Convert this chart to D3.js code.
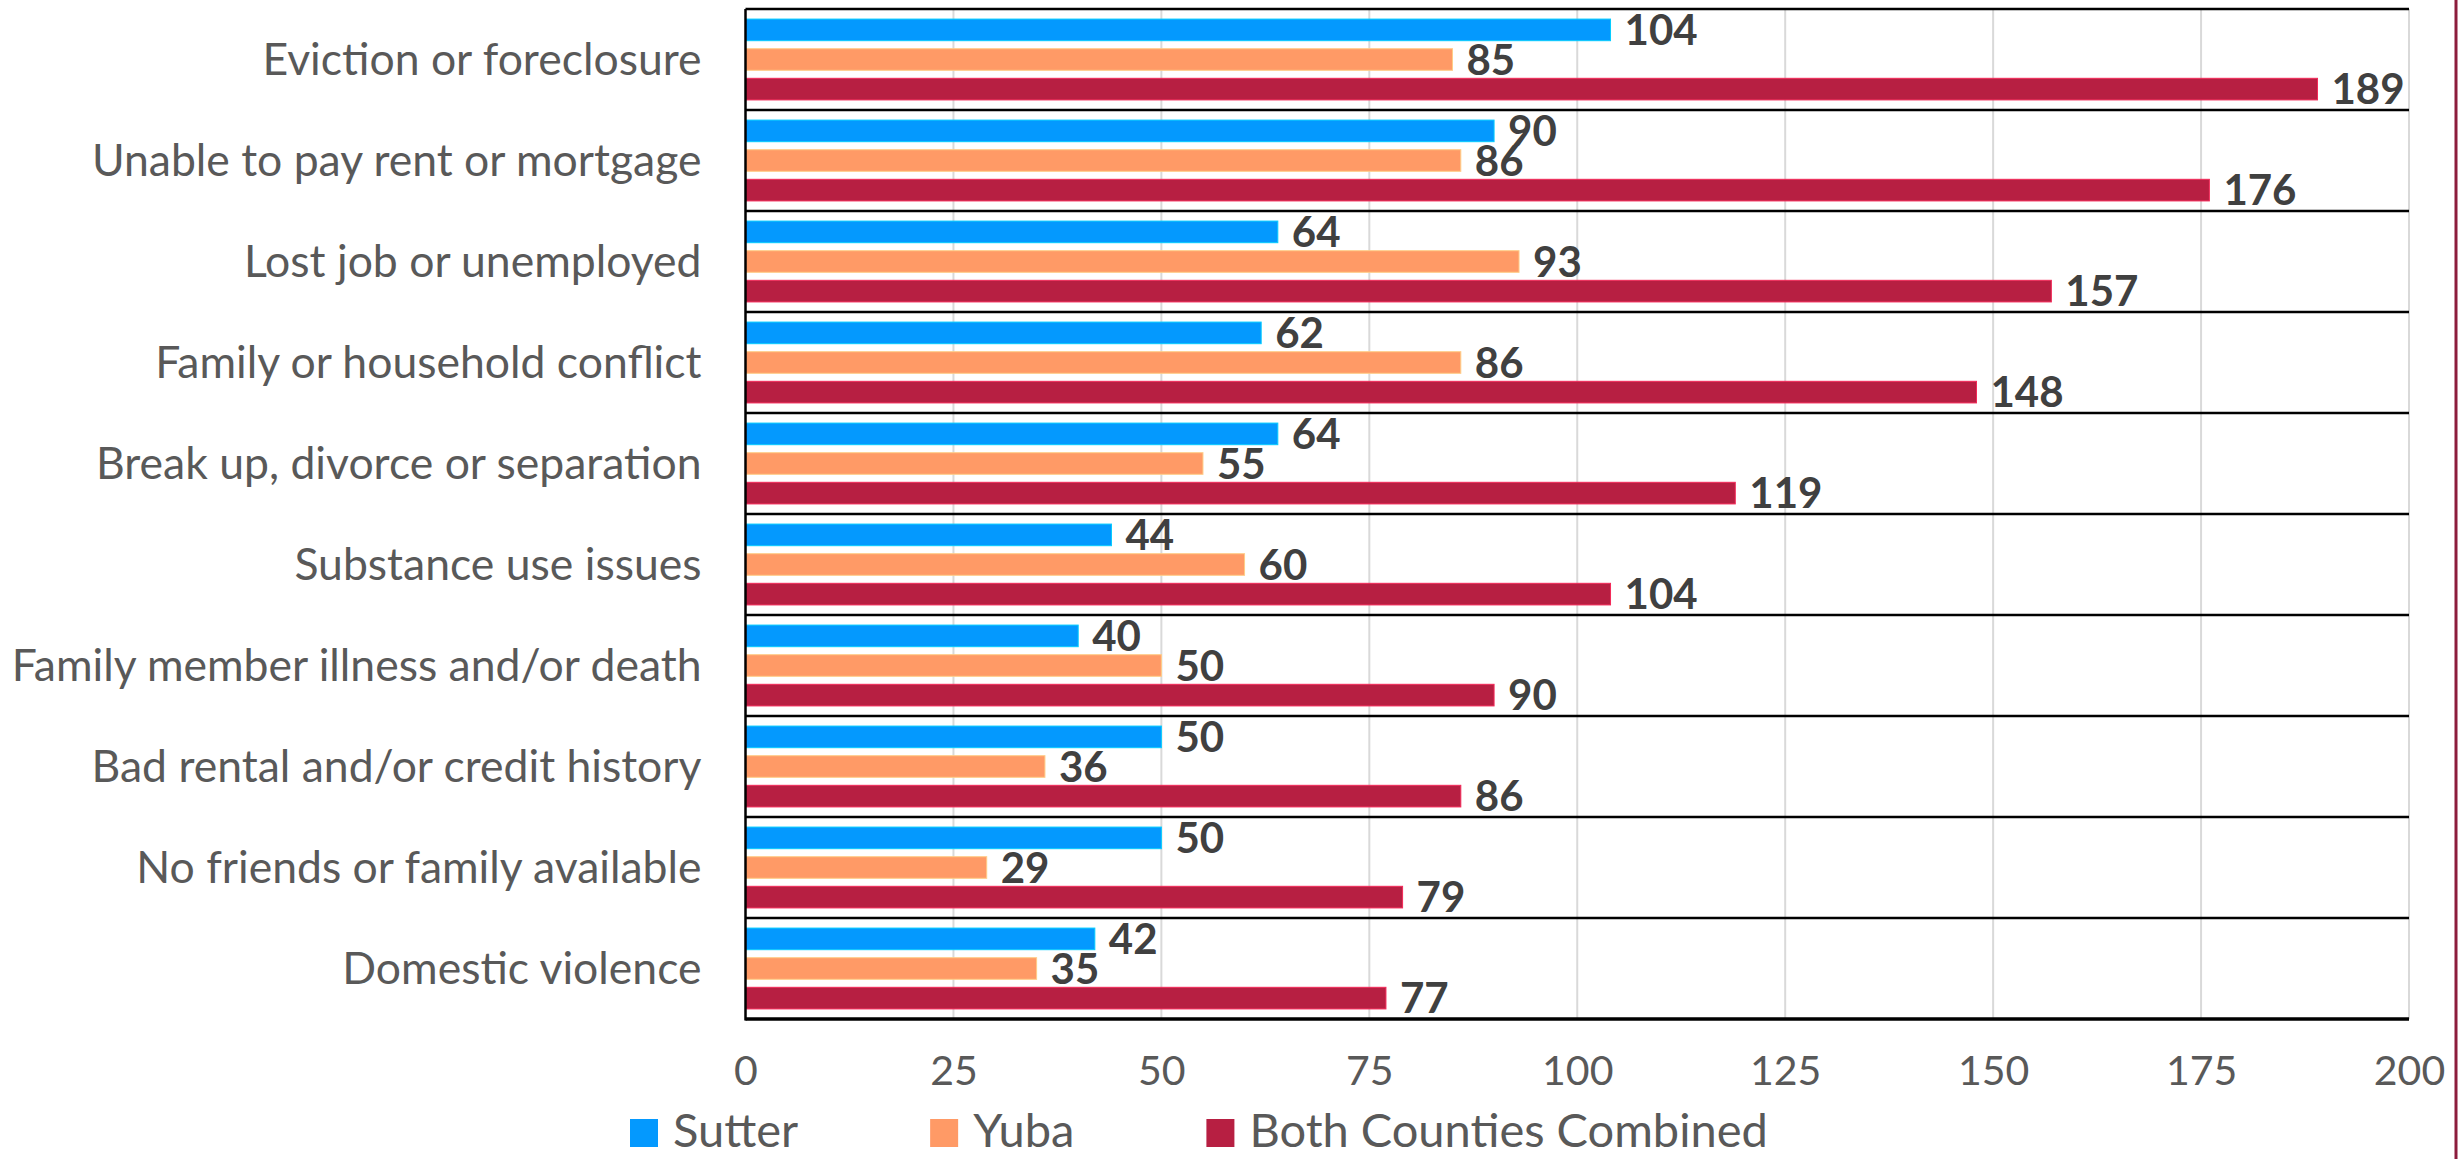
<!DOCTYPE html>
<html>
<head>
<meta charset="utf-8">
<script src="https://cdn.jsdelivr.net/npm/d3@7"></script>
<style>
  body { margin: 0; background: #fff; }
</style>
</head>
<body>
<div id="grafico"></div>
<script>
const width = 2458
const height = 1159

// data
const categories = [
  'Eviction or foreclosure',
  'Unable to pay rent or mortgage',
  'Lost job or unemployed',
  'Family or household conflict',
  'Break up, divorce or separation',
  'Substance use issues',
  'Family member illness and/or death',
  'Bad rental and/or credit history',
  'No friends or family available',
  'Domestic violence'
]
const seriesNames = ['Sutter', 'Yuba', 'Both Counties Combined']
const sutter = [104, 90, 64, 62, 64, 44, 40, 50, 50, 42]
const yuba = [85, 86, 93, 86, 55, 60, 50, 36, 29, 35]
const combined = [189, 176, 157, 148, 119, 104, 90, 86, 79, 77]
const xTicks = [0, 25, 50, 75, 100, 125, 150, 175, 200]

const colors = ['#0499fe', '#ff9a66', '#b71f42']
const seriesValues = [sutter, yuba, combined]

const plotLeft = 745.5, plotRight = 2409, plotTop = 9, plotBottom = 1019

const svg = d3.select('#grafico').append('svg')
              .attr('width', width)
              .attr('height', height)
              .style('font-family', 'Lato, "Open Sans", sans-serif')

const x = d3.scaleLinear().domain([0, 200]).range([plotLeft, plotRight])
const y0 = d3.scaleBand().domain(categories).range([plotTop, plotBottom]).padding(0)
const y1 = d3.scaleBand().domain(seriesNames).range([0, y0.bandwidth()])
             .paddingInner(0.27).paddingOuter(0.34)

// vertical gridlines
svg.append('g').selectAll('line')
   .data(xTicks.slice(1))
   .enter().append('line')
   .attr('x1', d => x(d)).attr('x2', d => x(d))
   .attr('y1', plotTop).attr('y2', plotBottom)
   .attr('stroke', '#d9d9d9')
   .attr('stroke-width', 2)

// bars
const rows = categories.map((c, i) => ({
  cat: c,
  vals: seriesNames.map((s, j) => ({ s: s, v: seriesValues[j][i], c: colors[j] }))
}))

const grupo = svg.selectAll('g.cat')
                 .data(rows)
                 .enter().append('g')
                 .attr('class', 'cat')
                 .attr('transform', d => `translate(0, ${y0(d.cat)})`)

grupo.selectAll('rect')
     .data(d => d.vals)
     .enter().append('rect')
     .attr('x', x(0))
     .attr('y', d => y1(d.s))
     .attr('width', d => x(d.v) - x(0))
     .attr('height', y1.bandwidth())
     .attr('fill', d => d.c)
     .attr('stroke', d => d3.color(d.c).brighter(0.8))
     .attr('stroke-width', 1)

// separators between categories
svg.append('g').selectAll('line')
   .data(categories.slice(1))
   .enter().append('line')
   .attr('x1', plotLeft).attr('x2', plotRight)
   .attr('y1', d => y0(d)).attr('y2', d => y0(d))
   .attr('stroke', '#000')
   .attr('stroke-width', 2.5)

svg.append('line').attr('x1', plotLeft).attr('x2', plotRight).attr('y1', plotTop).attr('y2', plotTop)
   .attr('stroke', '#000').attr('stroke-width', 2.5)
svg.append('line').attr('x1', plotLeft).attr('x2', plotRight).attr('y1', plotBottom).attr('y2', plotBottom)
   .attr('stroke', '#000').attr('stroke-width', 3.5)
svg.append('line').attr('x1', plotLeft).attr('x2', plotLeft).attr('y1', plotTop).attr('y2', plotBottom + 1.5)
   .attr('stroke', '#000').attr('stroke-width', 2.5)

// value labels
grupo.selectAll('text.val')
     .data(d => d.vals)
     .enter().append('text')
     .attr('class', 'val')
     .attr('x', d => x(d.v) + 14)
     .attr('y', d => y1(d.s) + y1.bandwidth() / 2)
     .attr('dy', '0.36em')
     .attr('fill', '#404040')
     .style('font-size', '42px')
     .style('font-weight', 'bold')
     .text(d => d.v)

// category axis
const eixoY = svg.append('g')
                 .attr('transform', `translate(${plotLeft}, 0)`)
                 .call(d3.axisLeft(y0).tickSize(0).tickPadding(44))
eixoY.select('.domain').remove()
eixoY.selectAll('text')
     .attr('dy', '0.35em')
     .attr('fill', '#595959')
     .style('font-size', '44.5px')
     .style('font-family', 'Lato, "Open Sans", sans-serif')

// value axis
const eixoX = svg.append('g')
                 .attr('transform', `translate(0, ${plotBottom})`)
                 .call(d3.axisBottom(x).tickValues(xTicks).tickSize(0))
eixoX.select('.domain').remove()
eixoX.selectAll('text')
     .attr('y', 66)
     .attr('dy', 0)
     .attr('fill', '#595959')
     .style('font-size', '41px')
     .style('font-family', 'Lato, "Open Sans", sans-serif')

// legend
const legenda = svg.append('g').attr('transform', 'translate(630, 1119)')
let lx = 0
seriesNames.forEach((s, j) => {
  const item = legenda.append('g').attr('transform', `translate(${lx}, 0)`)
  item.append('rect').attr('width', 28).attr('height', 28).attr('fill', colors[j])
  const t = item.append('text')
                .attr('x', 43).attr('y', 28)
                .attr('fill', '#595959')
                .style('font-size', '47px')
                .text(s)
  lx += 43 + t.node().getComputedTextLength() + 132
})

// slide edge line on the right
svg.append('line').attr('x1', 2456).attr('x2', 2456).attr('y1', 0).attr('y2', height)
   .attr('stroke', '#8c1c3c').attr('stroke-width', 3)
</script>
</body>
</html>
